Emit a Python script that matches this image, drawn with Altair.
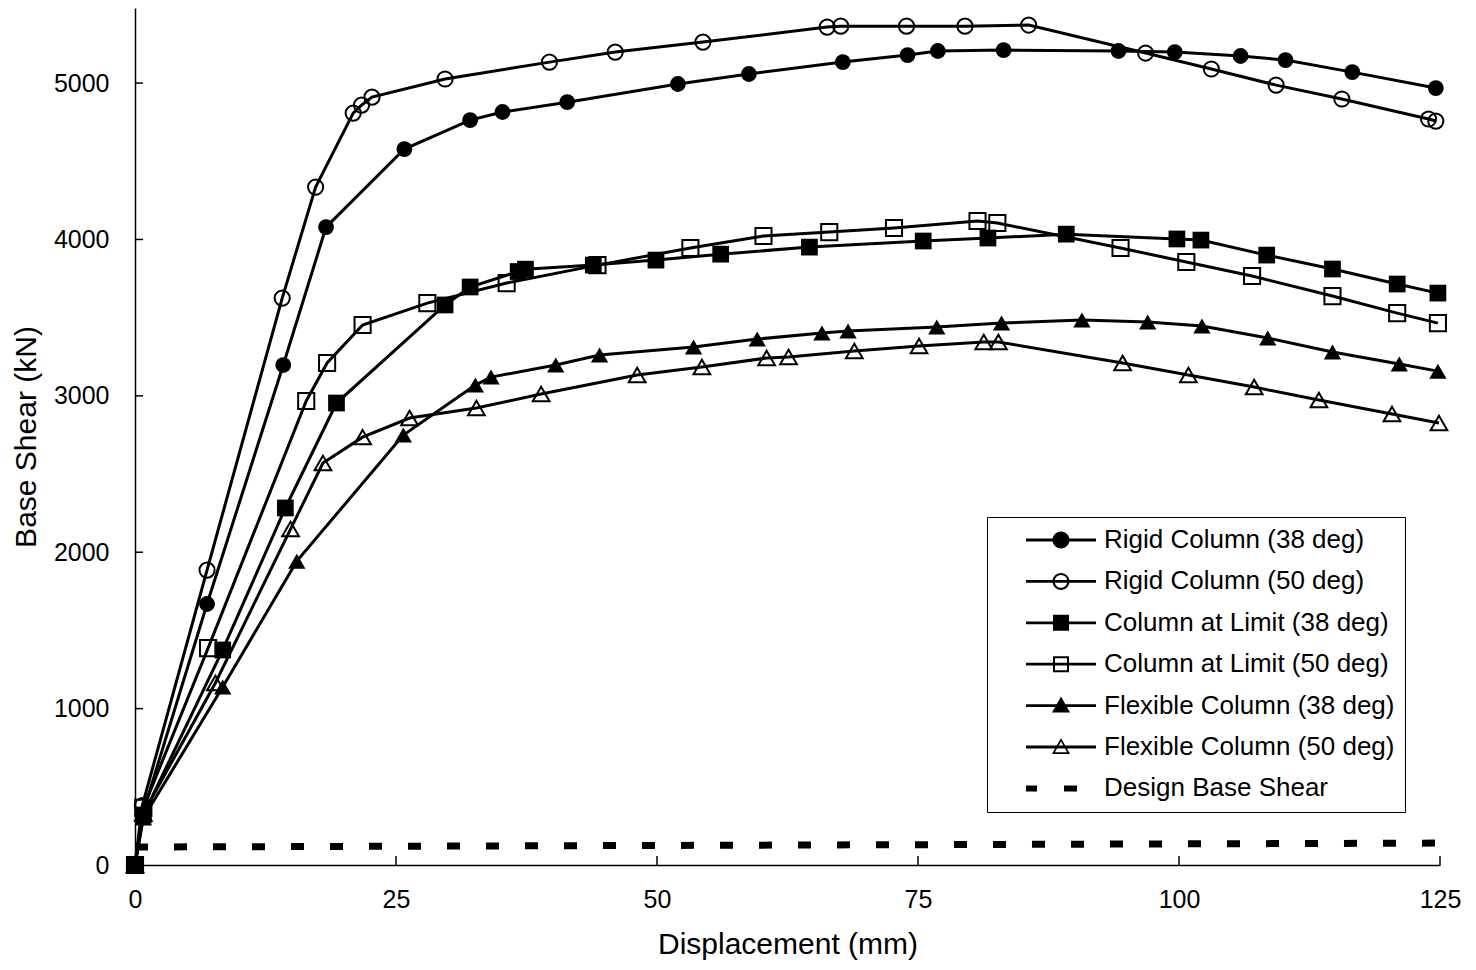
import altair as alt
import pandas as pd

# ---------------- data ----------------
names = [
    "Rigid Column (38 deg)",
    "Rigid Column (50 deg)",
    "Column at Limit (38 deg)",
    "Column at Limit (50 deg)",
    "Flexible Column (38 deg)",
    "Flexible Column (50 deg)",
    "Design Base Shear",
]

rc38_x = [0, 0.7, 6.9, 14.2, 18.3, 25.8, 32.1, 35.2, 41.4, 52.0, 58.8, 67.8, 74.0, 76.9, 83.2, 94.2, 99.6, 105.9, 110.2, 116.6, 124.6]
rc38_y = [0, 320, 1669, 3197, 4079, 4578, 4763, 4815, 4878, 4994, 5058, 5134, 5179, 5205, 5211, 5205, 5198, 5173, 5147, 5070, 4968]

rc50_x = [0, 0.7, 6.9, 14.1, 17.3, 20.9, 21.7, 22.7, 29.7, 39.7, 46.0, 54.4, 66.3, 67.6, 73.9, 79.5, 85.6, 96.8, 103.1, 109.3, 115.6, 123.9, 124.6]
rc50_y = [0, 380, 1886, 3625, 4335, 4808, 4859, 4910, 5026, 5134, 5198, 5262, 5358, 5364, 5364, 5364, 5371, 5192, 5090, 4987, 4898, 4770, 4757]

cl38_x = [0, 0.8, 8.4, 14.4, 19.3, 29.7, 32.1, 36.7, 37.4, 43.9, 49.9, 56.1, 64.6, 75.5, 81.7, 89.2, 99.8, 102.1, 108.4, 114.7, 120.9, 124.8]
cl38_y = [0, 320, 1375, 2283, 2954, 3581, 3696, 3795, 3810, 3836, 3868, 3906, 3951, 3990, 4009, 4034, 4003, 3996, 3900, 3811, 3715, 3657]

cl50_x = [0, 0.8, 7.0, 16.4, 18.4, 21.8, 28.0, 35.6, 44.3, 53.2, 60.2, 66.5, 72.7, 80.7, 82.6, 94.4, 100.7, 107.0, 114.7, 120.9, 124.8]
cl50_y = [0, 365, 1387, 2967, 3210, 3453, 3593, 3721, 3836, 3945, 4022, 4047, 4073, 4118, 4105, 3945, 3856, 3766, 3638, 3529, 3465]

fc38_x = [0, 0.8, 8.4, 15.5, 25.7, 32.6, 34.1, 40.3, 44.5, 53.5, 59.6, 65.8, 68.3, 76.8, 83.0, 90.7, 97.0, 102.2, 108.5, 114.7, 121.1, 124.8]
fc38_y = [0, 300, 1138, 1943, 2749, 3069, 3120, 3197, 3261, 3313, 3363, 3402, 3414, 3440, 3465, 3485, 3472, 3446, 3370, 3280, 3203, 3158]

fc50_x = [0, 0.8, 7.7, 14.9, 18.0, 21.8, 26.3, 32.7, 38.9, 48.1, 54.3, 60.5, 62.6, 68.9, 75.1, 81.3, 82.7, 94.6, 100.9, 107.2, 113.4, 120.4, 124.9]
fc50_y = [0, 330, 1164, 2148, 2570, 2736, 2858, 2922, 3012, 3133, 3184, 3242, 3248, 3287, 3318, 3344, 3344, 3210, 3133, 3056, 2973, 2884, 2826]

design_x = [0, 125]
design_y = [115, 140]

x_ticks = [0, 25, 50, 75, 100, 125]
y_ticks = [0, 1000, 2000, 3000, 4000, 5000]

# ---------------- build table ----------------
series = [
    (names[0], rc38_x, rc38_y),
    (names[1], rc50_x, rc50_y),
    (names[2], cl38_x, cl38_y),
    (names[3], cl50_x, cl50_y),
    (names[4], fc38_x, fc38_y),
    (names[5], fc50_x, fc50_y),
    (names[6], design_x, design_y),
]
rows = []
for nm, xs_, ys_ in series:
    for i, (xv, yv) in enumerate(zip(xs_, ys_)):
        rows.append({"series": nm, "x": xv, "y": yv, "i": i})
df = pd.DataFrame(rows)

FONT = "Liberation Sans"
W, H = 1305, 857
xscale = alt.Scale(domain=[0, 125], nice=False, zero=False)
yscale = alt.Scale(domain=[0, 5480], nice=False)

x_axis = alt.Axis(values=x_ticks, ticks=False, tickSize=0, grid=False, format="d",
                  labelFlush=False,
                  labelFontSize=25, labelPadding=22, labelColor="black", labelFont=FONT,
                  title="Displacement (mm)", titleFontSize=30, titleFontWeight="normal",
                  titleFont=FONT, titleColor="black", titlePadding=17,
                  domainColor="black", domainWidth=1.5)
y_axis = alt.Axis(values=y_ticks, ticks=False, tickSize=0, grid=False, format="d",
                  labelFlush=False,
                  labelFontSize=25, labelPadding=26, labelColor="black", labelFont=FONT,
                  title="Base Shear (kN)", titleFontSize=30, titleFontWeight="normal",
                  titleFont=FONT, titleColor="black", titlePadding=12,
                  domainColor="black", domainWidth=1.5)

X = alt.X("x:Q", scale=xscale, axis=x_axis)
Y = alt.Y("y:Q", scale=yscale, axis=y_axis)

base = alt.Chart(df)

curves = base.transform_filter(alt.datum.series != names[6]).mark_line(
    color="black", strokeWidth=3
).encode(x=X, y=Y, detail="series:N", order="i:Q")

design = base.transform_filter(alt.datum.series == names[6]).mark_line(
    color="black", strokeWidth=7, strokeDash=[13, 26], strokeCap="butt"
).encode(x=X, y=Y)

marker_specs = [
    (names[0], "circle", True, 250),
    (names[1], "circle", False, 230),
    (names[2], "square", True, 280),
    (names[3], "square", False, 260),
    (names[4], "triangle-up", True, 300),
    (names[5], "triangle-up", False, 280),
]
point_layers = []
for nm, shp, filled, sz in marker_specs:
    if filled:
        mk = dict(shape=shp, filled=True, color="black", size=sz, opacity=1, strokeWidth=0)
    else:
        mk = dict(shape=shp, filled=False, color="black", size=sz, opacity=1, strokeWidth=2)
    point_layers.append(
        base.transform_filter(alt.datum.series == nm).mark_point(**mk).encode(x=X, y=Y)
    )

# inward tick marks
yt = alt.Chart(pd.DataFrame({"y": y_ticks})).mark_rule(color="black", strokeWidth=1.5).encode(
    y=Y, x=alt.value(0), x2=alt.value(8)
)
xt = alt.Chart(pd.DataFrame({"x": x_ticks})).mark_rule(color="black", strokeWidth=1.5).encode(
    x=X, y=alt.value(H), y2=alt.value(H - 9)
)

# legend symbols: line + marker paths, all drawn by fill
ln = "M-3.5,-0.14H3.5V0.14H-3.5Z"
circ = "M0.85,0A0.85,0.85,0,1,1,-0.85,0A0.85,0.85,0,1,1,0.85,0Z"
circ_in = "M0.63,0A0.63,0.63,0,1,0,-0.63,0A0.63,0.63,0,1,0,0.63,0Z"
sq = "M-0.8,-0.8H0.8V0.8H-0.8Z"
sq_in = "M-0.6,-0.6V0.6H0.6V-0.6Z"
tri = "M0,-0.9L0.9,0.7L-0.9,0.7Z"
tri_in = "M0,-0.56L-0.61,0.53L0.61,0.53Z"
legend_paths = [
    ln + circ,
    ln + circ + circ_in,
    ln + sq,
    ln + sq + sq_in,
    ln + tri,
    ln + tri + tri_in,
    "M-3.5,-0.3H-2.4V0.3H-3.5Z M0.3,-0.3H1.6V0.3H0.3Z",
]

legend_layer = base.transform_filter("false").mark_point(
    filled=True, color="black", opacity=1
).encode(
    x=X, y=Y,
    shape=alt.Shape("series:N", scale=alt.Scale(domain=names, range=legend_paths),
                    legend=alt.Legend(
                        title=None, orient="none", legendX=852, legendY=509,
                        labelFontSize=26, labelFont=FONT, labelColor="black",
                        symbolSize=400, symbolStrokeWidth=0,
                        symbolFillColor="black",
                        symbolOffset=51, labelOffset=30, rowPadding=15.4,
                        padding=10, strokeColor="black", fillColor="white",
                        labelLimit=400)),
)

chart = alt.layer(curves, design, *point_layers, yt, xt, legend_layer).properties(
    width=W, height=H,
    padding={"left": 127, "top": 0, "right": 26, "bottom": 100},
    autosize=alt.AutoSizeParams(type="none"),
    background="white",
).configure_view(stroke=None)

chart.save("out.html", embed_options={"renderer": "svg", "actions": False})
